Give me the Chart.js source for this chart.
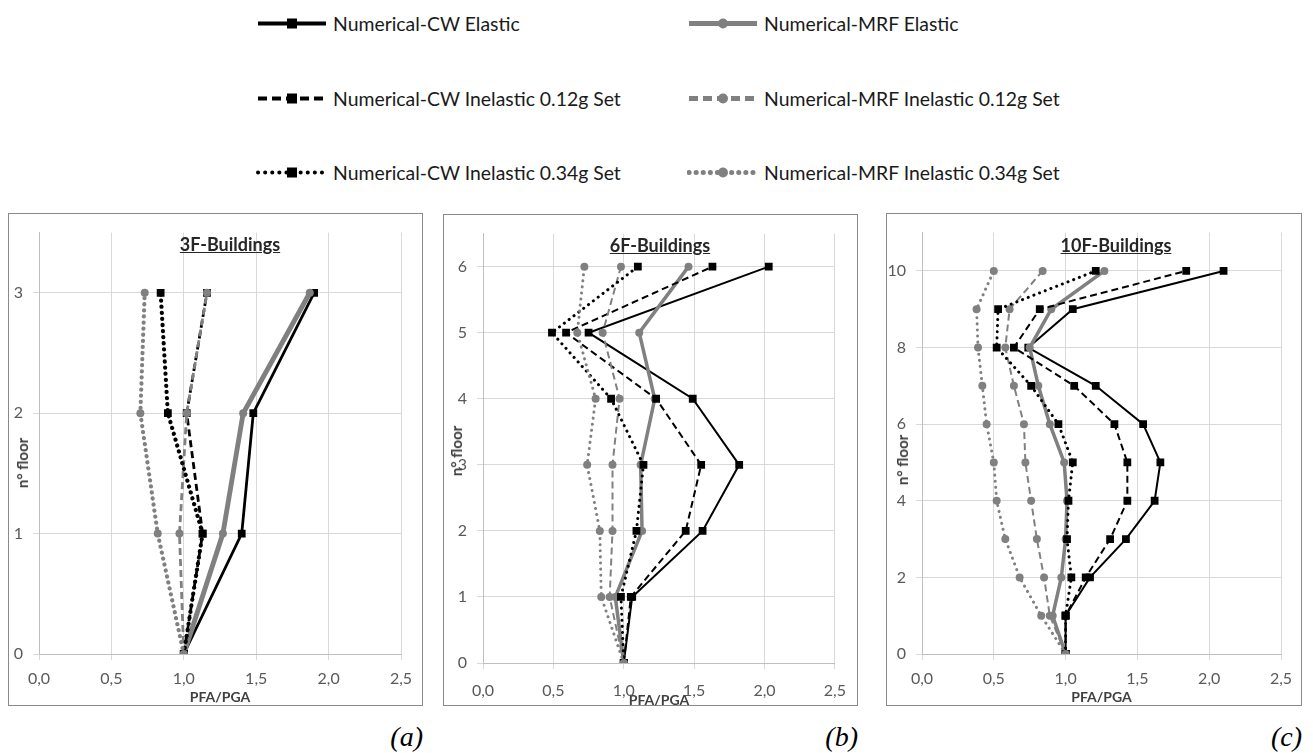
<!DOCTYPE html>
<html>
<head>
<meta charset="utf-8">
<script src="https://cdn.jsdelivr.net/npm/chart.js@4.4.1/dist/chart.umd.min.js"></script>
<style>
 body { margin: 0; width: 1313px; height: 753px; background: #fff; position: relative; overflow: hidden; font-family: Lato, sans-serif; }
 .frame { position: absolute; border: 1.5px solid #8a8a8a; box-sizing: border-box; }
 canvas { position: absolute; }
 .ttl { position: absolute; font-weight: bold; font-size: 18px; text-decoration: underline; color: #262626; transform: translate(-50%, -50%); white-space: nowrap; }
 .ytl { position: absolute; font-weight: bold; font-size: 15px; color: #404040; transform: translate(-50%, -50%) rotate(-90deg); white-space: nowrap; }
 .tag { position: absolute; font: italic 28px "Liberation Serif", serif; transform: translate(-100%, -50%); }
 .leg { position: absolute; display: flex; align-items: center; font-size: 19.4px; color: #1a1a1a; white-space: nowrap; transform: translateY(-50%); }
 .leg svg { margin-right: 5px; }
</style>
</head>
<body>
<div id="legend"></div>
<script>
// series names (legend order)
var seriesNames = [
 "Numerical-CW Elastic",
 "Numerical-MRF Elastic",
 "Numerical-CW Inelastic 0.12g Set",
 "Numerical-MRF Inelastic 0.12g Set",
 "Numerical-CW Inelastic 0.34g Set",
 "Numerical-MRF Inelastic 0.34g Set"
];

var xTickLabels = ["0,0", "0,5", "1,0", "1,5", "2,0", "2,5"];

// 3F buildings
var floors3F = [0, 1, 2, 3];
var cwElastic3F = [1.00, 1.40, 1.48, 1.90];
var mrfElastic3F = [1.00, 1.27, 1.41, 1.87];
var cwInel012_3F = [1.00, 1.13, 1.02, 1.16];
var mrfInel012_3F = [1.00, 0.97, 1.02, 1.16];
var cwInel034_3F = [1.00, 1.13, 0.89, 0.84];
var mrfInel034_3F = [1.00, 0.82, 0.70, 0.73];

// 6F buildings
var floors6F = [0, 1, 2, 3, 4, 5, 6];
var cwElastic6F = [1.00, 1.06, 1.56, 1.82, 1.49, 0.75, 2.03];
var mrfElastic6F = [1.00, 0.94, 1.13, 1.12, 1.22, 1.11, 1.46];
var cwInel012_6F = [1.00, 1.05, 1.44, 1.55, 1.23, 0.59, 1.63];
var mrfInel012_6F = [1.00, 0.90, 0.92, 0.92, 0.97, 0.85, 0.98];
var cwInel034_6F = [1.00, 0.98, 1.09, 1.14, 0.91, 0.49, 1.10];
var mrfInel034_6F = [1.00, 0.84, 0.83, 0.74, 0.80, 0.67, 0.72];

// 10F buildings
var floors10F = [0, 1, 2, 3, 4, 5, 6, 7, 8, 9, 10];
var cwElastic10F = [1.00, 1.00, 1.17, 1.42, 1.62, 1.66, 1.54, 1.21, 0.74, 1.05, 2.10];
var mrfElastic10F = [1.00, 0.91, 0.97, 1.00, 1.01, 0.99, 0.89, 0.81, 0.75, 0.90, 1.27];
var cwInel012_10F = [1.00, 1.00, 1.14, 1.31, 1.43, 1.43, 1.34, 1.06, 0.64, 0.82, 1.84];
var mrfInel012_10F = [1.00, 0.89, 0.85, 0.80, 0.76, 0.72, 0.71, 0.64, 0.58, 0.61, 0.84];
var cwInel034_10F = [1.00, 1.00, 1.04, 1.01, 1.02, 1.05, 0.95, 0.76, 0.52, 0.53, 1.21];
var mrfInel034_10F = [1.00, 0.83, 0.68, 0.58, 0.52, 0.50, 0.45, 0.42, 0.39, 0.38, 0.50];

// look of each series
var styles = [
 { color: "#000000", width: 2, dash: [], point: "rect", radius: 5.5 },
 { color: "#808080", width: 3.5, dash: [], point: "circle", radius: 4 },
 { color: "#000000", width: 2, dash: [7, 4], point: "rect", radius: 5.5 },
 { color: "#808080", width: 2, dash: [7, 4], point: "circle", radius: 4 },
 { color: "#000000", width: 3, dash: [0.1, 6], point: "rect", radius: 5.5 },
 { color: "#808080", width: 3, dash: [0.1, 6], point: "circle", radius: 4 }
];

var panels = [
 {
  title: "3F-Buildings", tag: "(a)", floors: floors3F, yMax: 3.5, yStep: 1, lineScale: 1.4,
  series: [cwElastic3F, mrfElastic3F, cwInel012_3F, mrfInel012_3F, cwInel034_3F, mrfInel034_3F],
  frame: { l: 8, t: 213, r: 423, b: 706 }, plot: { l: 39, t: 230, r: 401, b: 654 },
  titlePos: [230, 244], yTitlePos: [22, 463], tickPad: 9, xTitleLine: 1.2
 },
 {
  title: "6F-Buildings", tag: "(b)", floors: floors6F, yMax: 6.5, yStep: 1, lineScale: 1,
  series: [cwElastic6F, mrfElastic6F, cwInel012_6F, mrfInel012_6F, cwInel034_6F, mrfInel034_6F],
  frame: { l: 443, t: 214, r: 858, b: 706 }, plot: { l: 483, t: 231, r: 837, b: 663 },
  titlePos: [660, 245], yTitlePos: [456, 451], tickPad: 12, xTitleLine: 0.85
 },
 {
  title: "10F-Buildings", tag: "(c)", floors: floors10F, yMax: 11, yStep: 2, lineScale: 1,
  series: [cwElastic10F, mrfElastic10F, cwInel012_10F, mrfInel012_10F, cwInel034_10F, mrfInel034_10F],
  frame: { l: 886, t: 213, r: 1302, b: 706 }, plot: { l: 922, t: 230, r: 1281, b: 654 },
  titlePos: [1116, 245], yTitlePos: [902, 460], tickPad: 9, xTitleLine: 1.2
 }
];

var gridColor = "#d9d9d9";
var tickColor = "#595959";

function addDiv(cls, text, x, y) {
 var d = document.createElement("div");
 d.className = cls;
 d.textContent = text;
 d.style.left = x + "px";
 d.style.top = y + "px";
 document.body.appendChild(d);
 return d;
}

function drawPanel(p) {
 var w = p.frame.r - p.frame.l;
 var h = p.frame.b - p.frame.t;

 var frame = document.createElement("div");
 frame.className = "frame";
 frame.style.left = p.frame.l + "px";
 frame.style.top = p.frame.t + "px";
 frame.style.width = w + "px";
 frame.style.height = h + "px";
 document.body.appendChild(frame);

 var canvas = document.createElement("canvas");
 canvas.width = w;
 canvas.height = h;
 canvas.style.left = p.frame.l + "px";
 canvas.style.top = p.frame.t + "px";
 document.body.appendChild(canvas);

 var datasets = p.series.map(function (values, i) {
  var s = styles[i];
  return {
   label: seriesNames[i],
   data: values.map(function (v, k) {
    return { x: v, y: p.floors[k] };
   }),
   showLine: true,
   borderColor: s.color,
   backgroundColor: s.color,
   borderWidth: s.width * p.lineScale,
   borderDash: s.dash,
   borderCapStyle: s.dash.length && s.dash[0] < 1 ? "round" : "butt",
   pointStyle: s.point,
   pointRadius: s.radius,
   pointBorderWidth: 0,
   tension: 0,
   order: seriesNames.length - i
  };
 });

 new Chart(canvas, {
  type: "scatter",
  data: { datasets: datasets },
  options: {
   responsive: false,
   animation: false,
   layout: {
    padding: { left: 0, bottom: 0, top: p.plot.t - p.frame.t, right: p.frame.r - p.plot.r }
   },
   plugins: { legend: { display: false }, tooltip: { enabled: false } },
   scales: {
    x: {
     type: "linear",
     min: 0,
     max: 2.5,
     ticks: {
      stepSize: 0.5,
      padding: p.tickPad,
      color: tickColor,
      font: { family: "Lato", size: 16 },
      callback: function (v) {
       return xTickLabels[Math.round(v / 0.5)];
      }
     },
     grid: { color: gridColor, tickLength: 6, tickColor: gridColor },
     border: { color: "#bfbfbf" },
     title: {
      display: true,
      text: "PFA/PGA",
      color: "#404040",
      font: { family: "Lato", size: 14, weight: "bold", lineHeight: p.xTitleLine },
      padding: { top: 0, bottom: 0 }
     },
     afterFit: function (scale) {
      scale.height = p.frame.b - p.plot.b;
     }
    },
    y: {
     type: "linear",
     min: 0,
     max: p.yMax,
     ticks: {
      stepSize: p.yStep,
      includeBounds: false,
      padding: 10,
      color: tickColor,
      font: { family: "Lato", size: 16 }
     },
     grid: { color: gridColor, tickLength: 6, tickColor: gridColor },
     border: { color: "#bfbfbf" },
     title: { display: false },
     afterFit: function (scale) {
      scale.width = p.plot.l - p.frame.l;
     }
    }
   }
  }
 });

 addDiv("ttl", p.title, p.titlePos[0], p.titlePos[1]);
 addDiv("ytl", "n° floor", p.yTitlePos[0], p.yTitlePos[1]);
 addDiv("tag", p.tag, p.frame.r, 737);
}

panels.forEach(drawPanel);

// legend, two columns, three rows
var legendCols = [256, 687];
var legendRows = [23, 98, 172];

function legendSample(s) {
 var ns = "http://www.w3.org/2000/svg";
 var svg = document.createElementNS(ns, "svg");
 svg.setAttribute("width", 72);
 svg.setAttribute("height", 14);
 var line = document.createElementNS(ns, "line");
 line.setAttribute("x1", 2);
 line.setAttribute("x2", 70);
 line.setAttribute("y1", 7);
 line.setAttribute("y2", 7);
 line.setAttribute("stroke", s.color);
 line.setAttribute("stroke-width", s.point === "circle" ? 5 : 4);
 if (s.dash.length) {
  if (s.dash[0] < 1) {
   line.setAttribute("stroke-dasharray", "0.1 7");
   line.setAttribute("stroke-linecap", "round");
  } else {
   line.setAttribute("stroke-dasharray", "9 5");
  }
 }
 svg.appendChild(line);
 var m;
 if (s.point === "rect") {
  m = document.createElementNS(ns, "rect");
  m.setAttribute("x", 31);
  m.setAttribute("y", 2);
  m.setAttribute("width", 10);
  m.setAttribute("height", 10);
 } else {
  m = document.createElementNS(ns, "circle");
  m.setAttribute("cx", 36);
  m.setAttribute("cy", 7);
  m.setAttribute("r", 5);
 }
 m.setAttribute("fill", s.color);
 svg.appendChild(m);
 return svg;
}

var legendBox = document.getElementById("legend");
seriesNames.forEach(function (name, i) {
 var item = document.createElement("div");
 item.className = "leg";
 item.style.left = legendCols[i % 2] + "px";
 item.style.top = legendRows[Math.floor(i / 2)] + "px";
 item.appendChild(legendSample(styles[i]));
 var span = document.createElement("span");
 span.textContent = name;
 item.appendChild(span);
 legendBox.appendChild(item);
});
</script>
</body>
</html>
